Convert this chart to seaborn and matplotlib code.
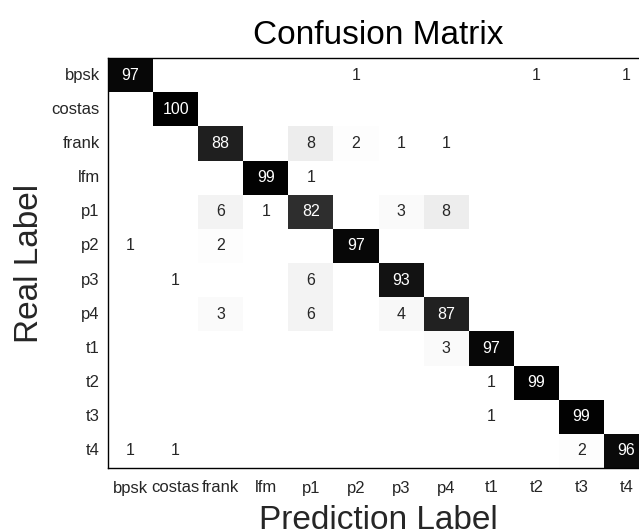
import numpy as np
import pandas as pd
import matplotlib
matplotlib.use("Agg")
import matplotlib.pyplot as plt
import seaborn as sns
from matplotlib.colors import LinearSegmentedColormap

labels = ["bpsk", "costas", "frank", "lfm", "p1", "p2", "p3", "p4", "t1", "t2", "t3", "t4"]

row_bpsk   = [97, 0, 0, 0, 0, 1, 0, 0, 0, 1, 0, 1]
row_costas = [0, 100, 0, 0, 0, 0, 0, 0, 0, 0, 0, 0]
row_frank  = [0, 0, 88, 0, 8, 2, 1, 1, 0, 0, 0, 0]
row_lfm    = [0, 0, 0, 99, 1, 0, 0, 0, 0, 0, 0, 0]
row_p1     = [0, 0, 6, 1, 82, 0, 3, 8, 0, 0, 0, 0]
row_p2     = [1, 0, 2, 0, 0, 97, 0, 0, 0, 0, 0, 0]
row_p3     = [0, 1, 0, 0, 6, 0, 93, 0, 0, 0, 0, 0]
row_p4     = [0, 0, 3, 0, 6, 0, 4, 87, 0, 0, 0, 0]
row_t1     = [0, 0, 0, 0, 0, 0, 0, 3, 97, 0, 0, 0]
row_t2     = [0, 0, 0, 0, 0, 0, 0, 0, 1, 99, 0, 0]
row_t3     = [0, 0, 0, 0, 0, 0, 0, 0, 1, 0, 99, 0]
row_t4     = [1, 1, 0, 0, 0, 0, 0, 0, 0, 0, 2, 96]

rows = [row_bpsk, row_costas, row_frank, row_lfm, row_p1, row_p2,
        row_p3, row_p4, row_t1, row_t2, row_t3, row_t4]

sns.set_theme(style="white")
plt.rcParams['font.family'] = ['Liberation Sans', 'DejaVu Sans']

df = pd.DataFrame(rows, index=labels, columns=labels)
annot = df.map(lambda v: "" if v == 0 else str(v))

cmap = LinearSegmentedColormap.from_list("wb", ["#ffffff", "#000000"])

fig = plt.figure(figsize=(6.39, 5.31), dpi=100)
ax = fig.add_axes([108/639, 1-468/531, 541/639, 410/531])
sns.heatmap(df, ax=ax, cmap=cmap, vmin=1, vmax=100, cbar=False,
            annot=annot, fmt="", annot_kws={"fontsize": 11.5})

for side in ["left", "top", "bottom", "right"]:
    ax.spines[side].set_visible(True)
    ax.spines[side].set_color("black")
    ax.spines[side].set_linewidth(1.0)

ax.tick_params(axis="both", length=0, labelsize=12, colors="#262626")
ax.tick_params(axis="x", pad=9)
ax.tick_params(axis="y", pad=6)
ax.set_yticklabels(labels, rotation=0)
ax.set_xticklabels(labels, rotation=0)

ax.set_title("Confusion Matrix", fontsize=24, pad=10, color="black")
ax.set_xlabel("Prediction Label", fontsize=24, labelpad=7, color="#262626")
ax.set_ylabel("Real Label", fontsize=24, labelpad=4.5, color="#262626")

fig.savefig("out.png", dpi=100)
